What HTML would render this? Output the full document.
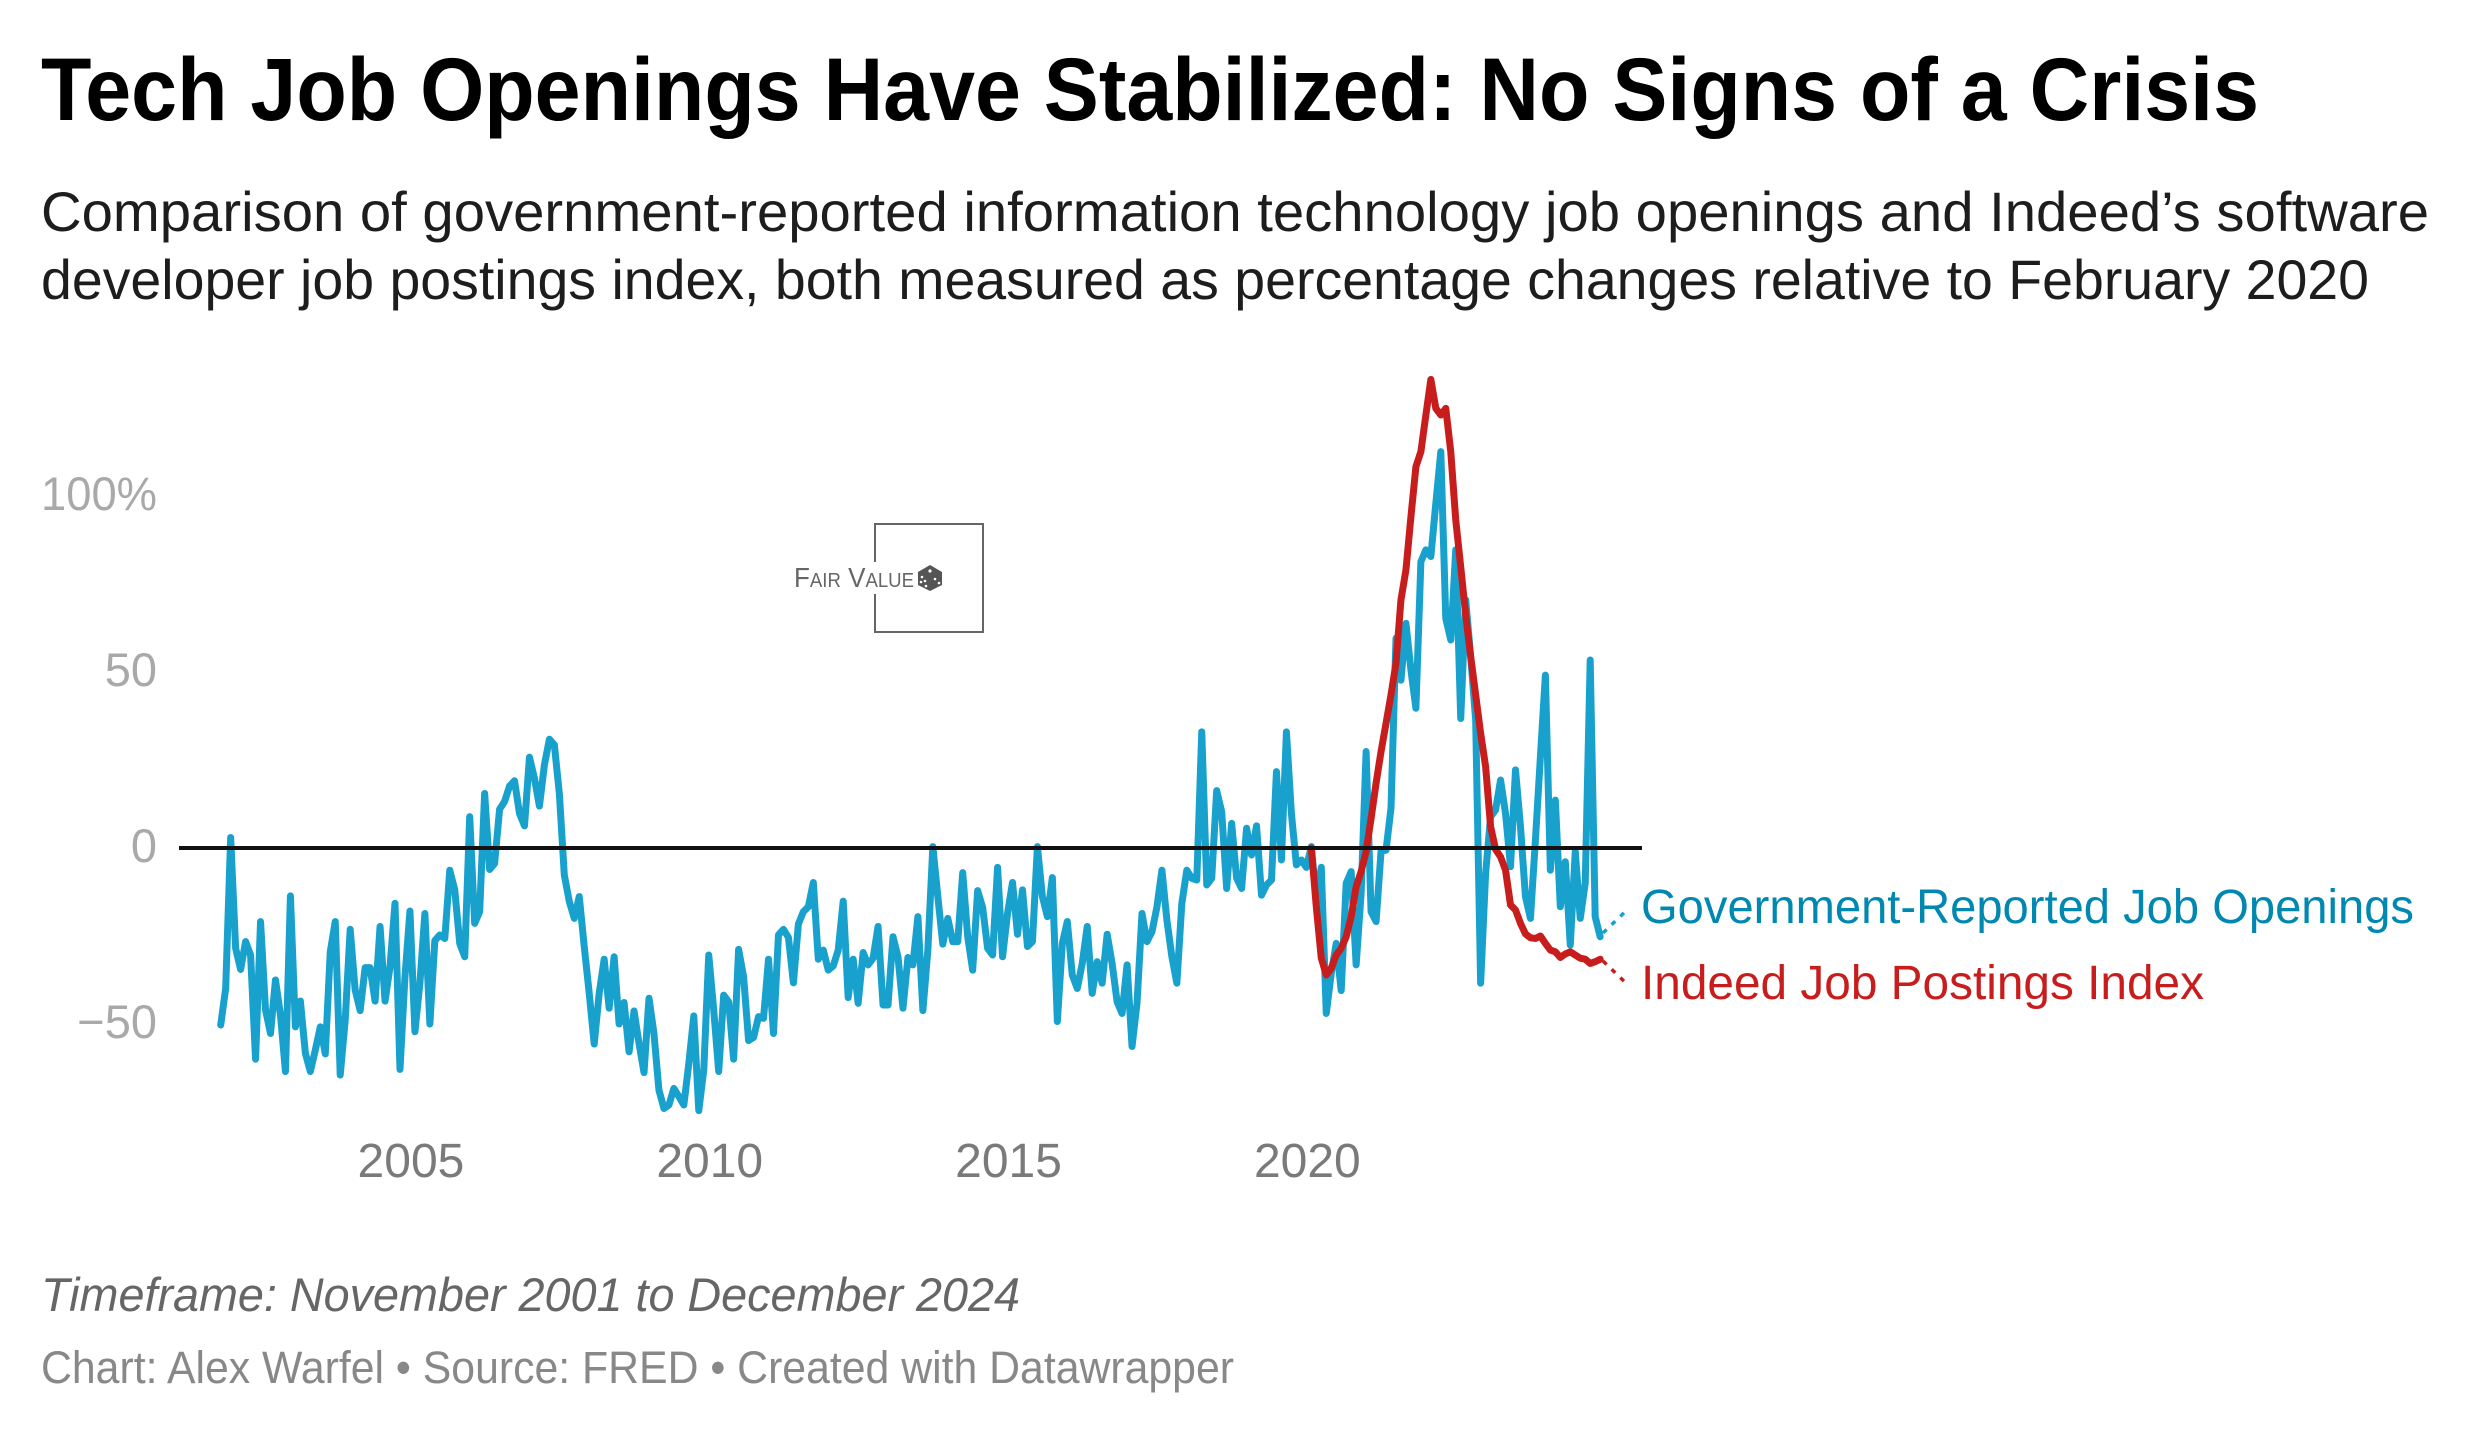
<!DOCTYPE html>
<html lang="en">
<head>
<meta charset="utf-8">
<title>Tech Job Openings Have Stabilized</title>
<style>
html,body{margin:0;padding:0;background:#fff}
svg{display:block}
text{font-family:"Liberation Sans",sans-serif}
</style>
</head>
<body>
<svg id="chart" xmlns="http://www.w3.org/2000/svg" width="2480" height="1440" viewBox="0 0 2480 1440">
  <rect width="2480" height="1440" fill="#fff"/>
  <text x="41" y="120" font-size="89" font-weight="700" fill="#000" textLength="2218" lengthAdjust="spacingAndGlyphs">Tech Job Openings Have Stabilized: No Signs of a Crisis</text>
  <text x="41" y="231" font-size="56" fill="#1d1d1d" textLength="2388" lengthAdjust="spacingAndGlyphs">Comparison of government-reported information technology job openings and Indeed’s software</text>
  <text x="41" y="299" font-size="56" fill="#1d1d1d" textLength="2328" lengthAdjust="spacingAndGlyphs">developer job postings index, both measured as percentage changes relative to February 2020</text>

  <g id="y-axis"></g>
  <g id="x-axis"></g>

  <g>
    <path d="M875 562V524H983V632H875V594" fill="none" stroke="#666" stroke-width="2"/>
    <text x="794" y="587" font-size="28" fill="#666" style="font-variant:small-caps" textLength="120" lengthAdjust="spacingAndGlyphs">Fair Value</text>
    <g>
      <polygon points="930,565 942,572 942,585 930,591 918,585 918,572" fill="#555"/>
      <circle cx="930" cy="571" r="1.6" fill="#fff"/>
      <circle cx="922" cy="577" r="1.3" fill="#fff"/>
      <circle cx="925" cy="581" r="1.3" fill="#fff"/>
      <circle cx="921" cy="582" r="1.3" fill="#fff"/>
      <circle cx="926" cy="586" r="1.3" fill="#fff"/>
      <circle cx="935" cy="579" r="1.3" fill="#fff"/>
      <circle cx="939" cy="583" r="1.3" fill="#fff"/>
    </g>
  </g>

  <g id="series"></g>

  <line x1="1603" y1="933" x2="1628" y2="909" stroke="#18a1cd" stroke-width="3.5" stroke-dasharray="5 7"/>
  <line x1="1603" y1="961" x2="1628" y2="985" stroke="#c71e1d" stroke-width="3.5" stroke-dasharray="5 7"/>
  <text x="1641" y="923" font-size="48" fill="#0088b0" textLength="773" lengthAdjust="spacingAndGlyphs">Government-Reported Job Openings</text>
  <text x="1641" y="999" font-size="48" fill="#c71e1d" textLength="563" lengthAdjust="spacingAndGlyphs">Indeed Job Postings Index</text>

  <text x="41" y="1311" font-size="47" font-style="italic" fill="#666" textLength="979" lengthAdjust="spacingAndGlyphs">Timeframe: November 2001 to December 2024</text>
  <text x="41" y="1383" font-size="45" fill="#888" textLength="1193" lengthAdjust="spacingAndGlyphs">Chart: Alex Warfel • Source: FRED • Created with Datawrapper</text>
</svg>
<script>
const firstYear = 2001, firstMonth = 10; // November 2001 (zero-based month)
const yTickValues = [100, 50, 0, -50];
const yTickLabels = ["100%", "50", "0", "\u221250"];
const xTickYears = [2005, 2010, 2015, 2020];
const indeedStartIndex = 219; // February 2020

const govOpenings = [
-50.3,-39.9,3.0,-28.5,-34.5,-26.6,-30.4,-60.0,-20.9,-46.0,-52.7,-37.5,-47.4,-63.5,-13.6,-50.8,-43.5,-58.3,-63.5,-57.4,
-50.8,-58.5,-29.5,-20.9,-64.5,-48.9,-23.1,-40.3,-46.2,-34.0,-34.0,-43.5,-22.3,-43.5,-33.7,-15.7,-62.9,-36.6,-17.9,-52.2,
-38.4,-18.6,-50.0,-26.3,-24.7,-25.7,-6.3,-11.9,-27.1,-30.9,8.9,-21.4,-18.1,15.5,-6.1,-4.4,11.0,13.2,17.6,19.1,
9.8,6.3,25.8,19.8,11.9,23.6,30.9,29.3,15.5,-7.7,-15.2,-20.0,-13.8,-28.0,-41.3,-55.7,-41.3,-31.6,-45.5,-30.9,
-50.0,-43.9,-57.9,-46.3,-55.5,-63.8,-42.7,-52.7,-68.8,-74.0,-73.0,-68.3,-70.6,-73.0,-61.2,-47.7,-74.6,-63.1,-30.4,-46.0,
-63.5,-41.8,-43.7,-60.0,-28.8,-36.6,-54.7,-53.8,-47.9,-48.4,-31.6,-52.7,-24.7,-23.1,-25.4,-38.3,-21.6,-18.1,-16.7,-9.8,
-31.6,-29.0,-34.7,-33.5,-29.0,-15.1,-42.5,-31.6,-44.1,-29.7,-33.2,-31.3,-22.3,-44.6,-44.6,-25.2,-30.9,-45.5,-31.1,-33.2,
-19.5,-46.2,-29.0,0.4,-13.8,-27.3,-20.0,-26.6,-26.6,-7.0,-25.2,-34.7,-12.1,-16.9,-28.5,-30.4,-5.5,-30.9,-18.6,-9.8,
-24.5,-11.9,-28.0,-26.6,0.4,-13.8,-19.5,-8.4,-49.3,-27.1,-20.9,-36.1,-39.9,-32.8,-22.3,-41.3,-32.3,-38.4,-24.5,-32.8,
-43.7,-47.0,-33.2,-56.4,-44.1,-18.6,-26.6,-23.8,-16.7,-6.3,-20.5,-30.9,-38.4,-15.7,-6.3,-8.6,-9.1,33.0,-10.5,-8.6,
16.3,10.3,-11.5,7.0,-8.6,-11.5,5.6,-2.0,6.3,-13.4,-10.5,-9.1,21.7,-3.4,33.0,9.8,-4.8,-3.4,-5.5,0.4,
-14.8,-5.5,-47.0,-35.6,-27.1,-40.5,-10.0,-6.7,-33.2,-12.9,27.4,-18.1,-20.9,-1.0,-0.6,11.3,59.6,47.7,63.8,50.6,
39.7,81.3,84.7,82.8,97.9,112.6,65.2,59.1,84.7,36.8,70.5,54.4,36.4,-38.4,-7.2,8.9,10.8,19.3,9.8,-5.3,
22.2,6.1,-13.8,-20.0,2.3,25.9,49.1,-6.3,13.6,-16.7,-3.9,-27.6,-1.0,-20.0,-10.0,53.4,-19.5,-25.2
];
const indeedPostings = [
0,-16.7,-31.3,-36.1,-34.2,-30.4,-28.5,-25.2,-19.5,-11.0,-6.7,-1.0,8.4,18.4,27.4,35.4,43.5,52.5,70.5,79.0,
94.1,108.3,112.6,123.0,133.1,124.9,123.0,124.9,112.6,93.2,79.9,66.2,54.4,43.5,32.6,23.1,6.1,-0.4,-2.5,-6.3,
-16.2,-17.6,-21.4,-24.4,-25.5,-25.7,-25.0,-27.1,-29.0,-29.5,-31.1,-30.1,-29.5,-30.4,-31.3,-31.6,-32.8,-32.3,-31.6
];

const SVG_NS = "http://www.w3.org/2000/svg";
const PX_PER_MONTH = 4.98, X_ORIGIN = 220.7, Y_ZERO = 848, PX_PER_PCT = 3.52;
function xScale(monthIndex) { return X_ORIGIN + monthIndex * PX_PER_MONTH; }
function xOfYear(year) { return xScale((year - firstYear) * 12 - firstMonth); }
function yScale(value) { return Y_ZERO - value * PX_PER_PCT; }
function linePoints(values, startIndex) {
  return values.map(function (v, k) {
    return xScale(startIndex + k).toFixed(2) + "," + yScale(v).toFixed(2);
  }).join(" ");
}

const yAxis = document.getElementById("y-axis");
yTickValues.forEach(function (value, k) {
  const t = document.createElementNS(SVG_NS, "text");
  
  
  t.setAttribute("x", 157);
  t.setAttribute("y", yScale(value) + 14);
  t.setAttribute("text-anchor", "end");
  t.setAttribute("font-size", "47");
  t.setAttribute("fill", "#a9a9a9");
  if (yTickLabels[k].indexOf("%") >= 0) {
    t.setAttribute("textLength", "116");
    t.setAttribute("lengthAdjust", "spacingAndGlyphs");
  }
  t.textContent = yTickLabels[k];
  yAxis.appendChild(t);
});

const xAxis = document.getElementById("x-axis");
xTickYears.forEach(function (year) {
  const t = document.createElementNS(SVG_NS, "text");
  
  
  t.setAttribute("x", xOfYear(year) + 1);
  t.setAttribute("y", 1177);
  t.setAttribute("text-anchor", "middle");
  t.setAttribute("font-size", "48");
  t.setAttribute("fill", "#7a7a7a");
  t.textContent = String(year);
  xAxis.appendChild(t);
});

const seriesGroup = document.getElementById("series");
const govLine = document.createElementNS(SVG_NS, "polyline");


govLine.setAttribute("points", linePoints(govOpenings, 0));
govLine.setAttribute("fill", "none");
govLine.setAttribute("stroke", "#18a1cd");
govLine.setAttribute("stroke-width", "7");
govLine.setAttribute("stroke-linejoin", "round");
govLine.setAttribute("stroke-linecap", "round");
seriesGroup.appendChild(govLine);

const indeedLine = document.createElementNS(SVG_NS, "polyline");


indeedLine.setAttribute("points", linePoints(indeedPostings, indeedStartIndex));
indeedLine.setAttribute("fill", "none");
indeedLine.setAttribute("stroke", "#c71e1d");
indeedLine.setAttribute("stroke-width", "7");
indeedLine.setAttribute("stroke-linejoin", "round");
indeedLine.setAttribute("stroke-linecap", "round");
seriesGroup.appendChild(indeedLine);

const zeroLine = document.createElementNS(SVG_NS, "line");


zeroLine.setAttribute("x1", 179);
zeroLine.setAttribute("x2", 1642);
zeroLine.setAttribute("y1", yScale(0));
zeroLine.setAttribute("y2", yScale(0));
zeroLine.setAttribute("stroke", "#111");
zeroLine.setAttribute("stroke-width", "4");
seriesGroup.appendChild(zeroLine);
</script>
</body>
</html>
